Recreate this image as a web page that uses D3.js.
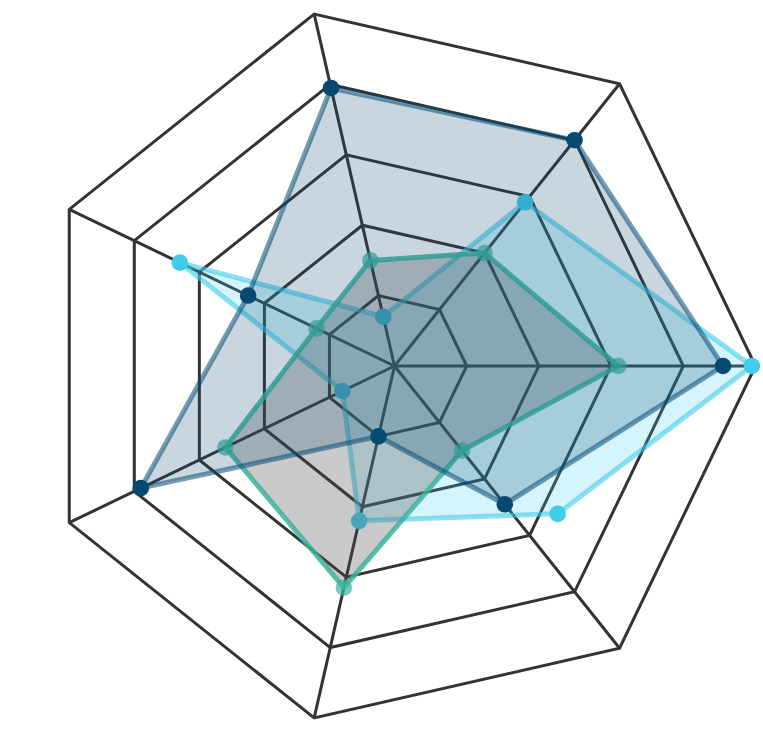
<!DOCTYPE html>
<html>
<head>
<meta charset="utf-8">
<script src="https://cdn.jsdelivr.net/npm/d3@7"></script>
<style>
  html, body { margin: 0; padding: 0; background: #fff; }
  svg { display: block; }
</style>
</head>
<body>
<div id="chart"></div>
<script>
// seven spokes, no labels shown on the chart
const axes = ["a1", "a2", "a3", "a4", "a5", "a6", "a7"];
const levels = [20, 40, 60, 80, 100];

// values (0-100)
const navyValues = [91, 80, 79, 45, 78, 20, 49];
const cyanValues = [99, 58, 14, 66, 16, 44, 61];
const greenValues = [62, 40, 30, 24, 52, 63, 30];

// where each point sits around the wheel (in spoke units); the last cyan point is off its spoke
const navyPos = [0, 1, 2, 3, 4, 5, 6];
const cyanPos = [0, 1, 2, 3, 4, 5, 6.18];
const greenPos = [0, 1, 2, 3, 4, 5, 6];

const width = 763, height = 729;
const cx = 394.5, cy = 366, radius = 361;

const svg = d3.select("#chart").append("svg")
  .attr("width", width)
  .attr("height", height);

const g = svg.append("g").attr("transform", `translate(${cx},${cy})`);

const r = d3.scaleLinear().domain([0, 100]).range([0, radius]);
const angle = d3.scaleLinear().domain([0, axes.length]).range([0, 2 * Math.PI]);

// screen point at position p around the wheel and value v (first spoke points right, counter-clockwise)
function pt(p, v) {
  const a = angle(p);
  return [r(v) * Math.cos(a), -r(v) * Math.sin(a)];
}

const line = d3.line().curve(d3.curveLinearClosed);

// grid rings
g.selectAll(".ring")
  .data(levels)
  .enter()
  .append("path")
  .attr("class", "ring")
  .attr("d", lv => line(axes.map((_, i) => pt(i, lv))))
  .style("fill", "none")
  .style("stroke", "#333")
  .style("stroke-width", 3)
  .style("stroke-linejoin", "miter");

// spokes
g.selectAll(".spoke")
  .data(axes)
  .enter()
  .append("line")
  .attr("class", "spoke")
  .attr("x1", 0).attr("y1", 0)
  .attr("x2", (d, i) => pt(i, 100)[0])
  .attr("y2", (d, i) => pt(i, 100)[1])
  .style("stroke", "#333")
  .style("stroke-width", 3);

// series, drawn in stacking order
const series = [
  { values: cyanValues, pos: cyanPos, color: "#41cceb", fill: "#41cceb", fillOp: 0.22, strokeOp: 0.6, dotOp: 1 },
  { values: greenValues, pos: greenPos, color: "#3db39e", fill: "#505050", fillOp: 0.3, strokeOp: 0.85, dotOp: 0.7 },
  { values: navyValues, pos: navyPos, color: "#064a72", fill: "#0b4f74", fillOp: 0.23, strokeOp: 0.55, dotOp: 1 }
];

series.forEach(s => {
  const pts = s.values.map((v, i) => pt(s.pos[i], v));
  const sg = g.append("g");
  sg.append("path")
    .attr("d", line(pts))
    .style("fill", s.fill)
    .style("fill-opacity", s.fillOp)
    .style("stroke", s.color)
    .style("stroke-opacity", s.strokeOp)
    .style("stroke-width", 5)
    .style("stroke-linejoin", "round");
  sg.selectAll("circle")
    .data(pts)
    .enter()
    .append("circle")
    .attr("cx", d => d[0])
    .attr("cy", d => d[1])
    .attr("r", 8.3)
    .style("fill", s.color)
    .style("fill-opacity", s.dotOp);
});
</script>
</body>
</html>
